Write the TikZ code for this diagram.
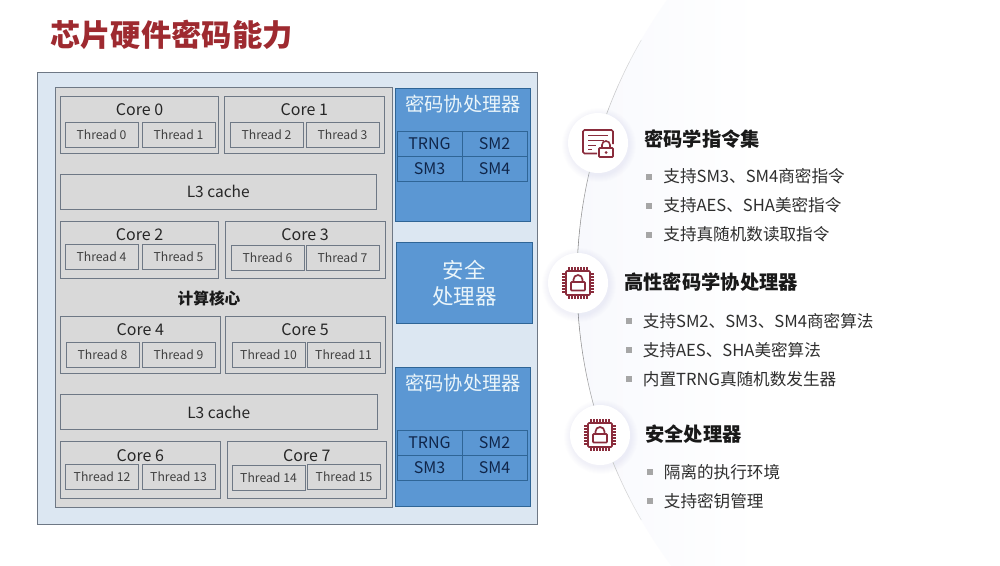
\documentclass[tikz,border=0pt]{standalone}
\usepackage{fontspec}
\setmainfont{Noto Sans CJK SC}
\newfontfamily\ttlfont{Noto Sans CJK SC Black}
\usetikzlibrary{positioning}
\definecolor{ttlred}{HTML}{9E2A30}
\definecolor{iconred}{HTML}{8A2C3C}
\definecolor{panelblue}{HTML}{DCE7F2}
\definecolor{chipgray}{HTML}{D9D9D9}
\definecolor{edgegray}{HTML}{6E7885}
\definecolor{blkblue}{HTML}{5B97D3}
\definecolor{blkedge}{HTML}{2F6596}
\definecolor{navy}{HTML}{10264A}
\definecolor{softwhite}{HTML}{EAF5FA}
\definecolor{tint}{HTML}{F8F9FD}
\definecolor{haloblue}{HTML}{8A98C8}
\tikzset{
	chipicon/.pic={
		\foreach \p in {-9,-6,-3,0,3,6,9} {
			\draw[iconred,line width=1.1pt] (\p,-16) -- (\p,16);
			\draw[iconred,line width=1.1pt] (-16,\p) -- (16,\p);
		}
		\draw[iconred,line width=1.7pt,fill=white,rounded corners=1pt] (-12,-12) rectangle (12,12);
		\draw[iconred,line width=1.7pt,rounded corners=.8pt] (-7,-1) rectangle (7,7.5);
		\draw[iconred,line width=1.7pt] (-4.5,-1) -- (-4.5,-3.5) arc[start angle=180,end angle=0,radius=4.5pt] -- (4.5,-2);
	},
	docicon/.pic={
		\draw[iconred,line width=1.6pt,rounded corners=1.5pt] (-1,10.5) -- (-15,10.5) -- (-15,-13) -- (15,-13) -- (15,1);
		\draw[iconred,line width=1.5pt] (-10,-7.5) -- (10,-7.5) (-10,-2.5) -- (6,-2.5) (-10,2.5) -- (-2,2.5) (-10,6.5) -- (-6,6.5);
		\draw[iconred,line width=1.7pt,fill=white,rounded corners=.8pt] (1,5) rectangle (15,14);
		\fill[iconred] (8,9.5) circle (1.5pt);
		\draw[iconred,line width=1.6pt] (4,5) -- (4,2) arc[start angle=180,end angle=0,radius=4pt] -- (12,5);
	}
}
\begin{document}
\begin{tikzpicture}[x=1pt,y=-1pt]
	\tikzstyle{corebox} = [draw=edgegray, line width=.7pt, fill=chipgray, rectangle, anchor=north west, outer sep=0pt, minimum width=158pt, minimum height=57pt, label={[anchor=center, yshift=-14pt, font=\fontsize{16}{18}\selectfont, text=black!85]north:#1}]
	\tikzstyle{thd} = [draw=edgegray, line width=.7pt, fill=chipgray, rectangle, outer sep=0pt, inner sep=0pt, minimum width=73pt, minimum height=25pt, font=\fontsize{12.2}{15}\selectfont, text=black!75]
	\tikzstyle{cache} = [draw=edgegray, line width=.7pt, fill=chipgray, rectangle, anchor=north west, outer sep=0pt, minimum width=316.5pt, minimum height=35pt, font=\fontsize{15.5}{18}\selectfont, text=black!85]
	\tikzstyle{blk} = [draw=blkedge, line width=.7pt, fill=blkblue, rectangle, anchor=north west, outer sep=0pt, minimum width=135.5pt]
	\tikzstyle{blkname} = [text=softwhite, font=\fontsize{19.3}{24}\selectfont, inner sep=0pt]
	\tikzstyle{cell} = [draw=blkedge, line width=.7pt, rectangle, outer sep=0pt, inner sep=0pt, minimum width=65pt, minimum height=25pt, text=navy, font=\fontsize{16}{19}\selectfont]
	\tikzstyle{head} = [anchor=west, inner sep=0pt, font=\fontsize{19.3}{23}\selectfont\bfseries, text=black!90]
	\tikzstyle{dot} = [fill=black!35, rectangle, inner sep=0pt, minimum size=6pt]
	\tikzstyle{item} = [right=11pt of #1, inner sep=0pt, font=\fontsize{16.6}{20}\selectfont, text=black!82]
	\tikzstyle{halo} = [fill=white, circle, inner sep=0pt, minimum size=60pt]

	\useasboundingbox (0,0) rectangle (1000,565);
	\fill[white] (0,0) rectangle (1000,565);
	\coordinate (hub) at (1057,280);

	% tint and arc on the right
	\begin{scope}
		\clip (hub) circle (480pt);
		\shade[left color=tint, right color=white] (577,0) rectangle (760,565);
	\end{scope}
	\foreach \a in {150,153,...,207} {
		\pgfmathsetmacro{\op}{max(0.15,1-abs(\a+1.5-180)/36)}
		\draw[black!55, line width=.55pt, opacity=\op] ([shift={(hub)}]\a:480pt) arc[start angle=\a, end angle=\a+3, radius=480pt];
	}

	\node[font=\fontsize{30.3}{36}\selectfont\ttlfont, text=ttlred, anchor=west, inner sep=0pt] (ttl) at (50,35) {芯片硬件密码能力};

	% panels
	\node[draw=edgegray, line width=.8pt, fill=panelblue, rectangle, anchor=north west, outer sep=0pt, minimum width=499.5pt, minimum height=452pt] (board) at (37.5,72) {};
	\node[draw=edgegray, line width=.8pt, fill=chipgray, rectangle, anchor=north west, outer sep=0pt, minimum width=337pt, minimum height=420pt] (cpu) at (55,87) {};

	% cores and threads
	\node[corebox=Core 0] (c0) at (60.5,96) {};
	\node[corebox=Core 1, minimum width=159.5pt] (c1) at (224.5,96) {};
	\node[thd, anchor=north west] (t0) at (65,122) {Thread 0};
	\node[thd, right=4pt of t0] (t1) {Thread 1};
	\node[thd, anchor=north west] (t2) at (230,122) {Thread 2};
	\node[thd, right=3pt of t2] (t3) {Thread 3};

	\node[cache] (l3a) at (60,174) {L3 cache};

	\node[corebox=Core 2] (c2) at (60.5,221) {};
	\node[corebox=Core 3, minimum width=160pt] (c3) at (225,221) {};
	\node[thd, anchor=north west] (t4) at (65,244) {Thread 4};
	\node[thd, right=4pt of t4] (t5) {Thread 5};
	\node[thd, anchor=north west] (t6) at (231,245) {Thread 6};
	\node[thd, right=2pt of t6] (t7) {Thread 7};

	\node[font=\fontsize{15.7}{18}\selectfont\bfseries, text=black!90, inner sep=0pt] (calc) at (209,298) {计算核心};

	\node[corebox=Core 4, minimum width=159.5pt] (c4) at (60.5,316) {};
	\node[corebox=Core 5, minimum width=160pt] (c5) at (225,316) {};
	\node[thd, anchor=north west] (t8) at (66,342.5) {Thread 8};
	\node[thd, right=3pt of t8] (t9) {Thread 9};
	\node[thd, anchor=north west] (t10) at (232,342.5) {Thread 10};
	\node[thd, right=2pt of t10] (t11) {Thread 11};

	\node[cache] (l3b) at (60.5,394.5) {L3 cache};

	\node[corebox=Core 6, minimum width=159.5pt] (c6) at (60.5,441.5) {};
	\node[corebox=Core 7, minimum width=159.5pt] (c7) at (227,441.5) {};
	\node[thd, anchor=north west] (t12) at (65.5,464) {Thread 12};
	\node[thd, right=3.5pt of t12] (t13) {Thread 13};
	\node[thd, anchor=north west] (t14) at (232,465) {Thread 14};
	\node[thd, anchor=north west] (t15) at (307.5,464) {Thread 15};

	% blue blocks
	\node[blk, minimum height=133.5pt] (cop1) at (395,88) {};
	\node[blkname] (cop1n) at (463,104) {密码协处理器};
	\node[cell, anchor=north west] (trng1) at (397,131) {TRNG};
	\node[cell, right=0pt of trng1] (sm2a) {SM2};
	\node[cell, below=0pt of trng1] (sm3a) {SM3};
	\node[cell, below=0pt of sm2a] (sm4a) {SM4};

	\node[blk, minimum height=81.5pt, text=softwhite, align=center, inner sep=0pt, font=\fontsize{21.5}{26}\selectfont] (sec) at (396.5,242) {安全\\处理器};

	\node[blk, minimum height=139pt] (cop2) at (395,367) {};
	\node[blkname] (cop2n) at (463,383) {密码协处理器};
	\node[cell, anchor=north west] (trng2) at (397,430) {TRNG};
	\node[cell, right=0pt of trng2] (sm2b) {SM2};
	\node[cell, below=0pt of trng2] (sm3b) {SM3};
	\node[cell, below=0pt of sm2b] (sm4b) {SM4};

	% icons
	\foreach \hx/\hy in {598/143,578/283,600/435} {
		\foreach \r in {31,32,...,37} {
			\fill[haloblue, opacity=.012] (\hx+1,\hy+2) circle (\r pt);
		}
	}
	\node[halo] (ring1) at (598,143) {};
	\node[halo] (ring2) at (578,283) {};
	\node[halo] (ring3) at (600,435) {};
	\pic at (ring1) {docicon};
	\pic at (ring2) {chipicon};
	\pic at (ring3) {chipicon};

	% first list
	\node[head] (h1) at (644,139) {密码学指令集};
	\node[dot] (d11) at (649,176.5) {};
	\node[dot] (d12) at (649,205.5) {};
	\node[dot] (d13) at (649,234.5) {};
	\node[item=d11] (i11) {支持SM3、SM4商密指令};
	\node[item=d12] (i12) {支持AES、SHA美密指令};
	\node[item=d13] (i13) {支持真随机数读取指令};

	% second list
	\node[head] (h2) at (624,282) {高性密码学协处理器};
	\node[dot] (d21) at (628.5,321) {};
	\node[dot] (d22) at (628.5,350) {};
	\node[dot] (d23) at (628.5,379) {};
	\node[item=d21] (i21) {支持SM2、SM3、SM4商密算法};
	\node[item=d22] (i22) {支持AES、SHA美密算法};
	\node[item=d23] (i23) {内置TRNG真随机数发生器};

	% third list
	\node[head] (h3) at (645,434) {安全处理器};
	\node[dot] (d31) at (649.5,472) {};
	\node[dot] (d32) at (649.5,501) {};
	\node[item=d31] (i31) {隔离的执行环境};
	\node[item=d32] (i32) {支持密钥管理};
\end{tikzpicture}
\end{document}
